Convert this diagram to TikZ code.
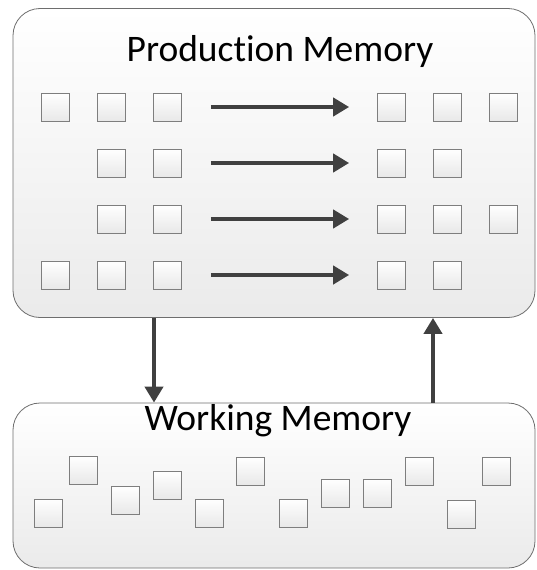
\documentclass[tikz,border=0pt]{standalone}
\usepackage{fontspec}
\setmainfont[Ligatures=NoCommon]{Carlito}
\usetikzlibrary{arrows.meta,shadows}
\definecolor{arrowgray}{HTML}{404040}
\definecolor{rimgray}{HTML}{6E6E6E}
\definecolor{cellgray}{HTML}{7E7E7E}
\tikzset{
  memory/.style={draw=rimgray, line width=0.8pt, rounded corners=27pt,
    top color=white, bottom color=black!8, inner sep=0pt},
  cell/.style={draw=cellgray, line width=0.7pt, minimum size=28pt, inner sep=0pt,
    top color=white, bottom color=black!9,
    drop shadow={shadow xshift=0.8pt, shadow yshift=-0.8pt, opacity=0.25, fill=black}},
  flow/.style={draw=arrowgray, line width=4.5pt,
    -{Triangle[length=16pt,width=18pt]}},
  rule/.style={flow, shorten <=29pt, shorten >=28pt},
  title/.style={font=\fontsize{37.5}{42}\selectfont, text=black, anchor=base, inner sep=0pt}
}
\begin{document}
\begin{tikzpicture}[x=1pt,y=-1pt]
\useasboundingbox (0,0) rectangle (537,570);

% the two memories
\node[memory, minimum width=522pt, minimum height=309pt] (prod) at (274,163) {};
\node[memory, minimum width=522pt, minimum height=165pt] (work) at (274,485.5) {};

\node[title] (ptitle) at (280,61) {Production Memory};
\node[title] (wtitle) at (278,430) {Working Memory};

% condition columns a, b, c and action columns d, e, f
\foreach \r/\y in {1/107,2/163,3/219,4/275}{
  \node[cell] (b\r) at (111.5,\y) {};
  \node[cell] (c\r) at (167.5,\y) {};
  \node[cell] (d\r) at (391.5,\y) {};
  \node[cell] (e\r) at (447.5,\y) {};
}
\foreach \r/\y in {1/107,4/275}{
  \node[cell] (a\r) at (55.5,\y) {};
}
\foreach \r/\y in {1/107,3/219}{
  \node[cell] (f\r) at (503.5,\y) {};
}
% one production per row
\foreach \r in {1,2,3,4}{
  \draw[rule] (c\r.east) -- (d\r.west);
}

% working memory elements
\foreach \i/\x/\y in {1/48/513,2/83/470,3/125/500,4/167/485,5/209/513,
                      6/250/471,7/293/513,8/335/493,9/377/493,10/419/471,
                      11/461/514,12/496/471}{
  \node[cell] (w\i) at (\x,\y) {};
}

% match and act
\coordinate (dn) at (154,0);
\coordinate (up) at (433,0);
\draw[flow] (prod.south -| dn) -- (work.north -| dn);
\draw[flow] (work.north -| up) -- (prod.south -| up);
\end{tikzpicture}
\end{document}
